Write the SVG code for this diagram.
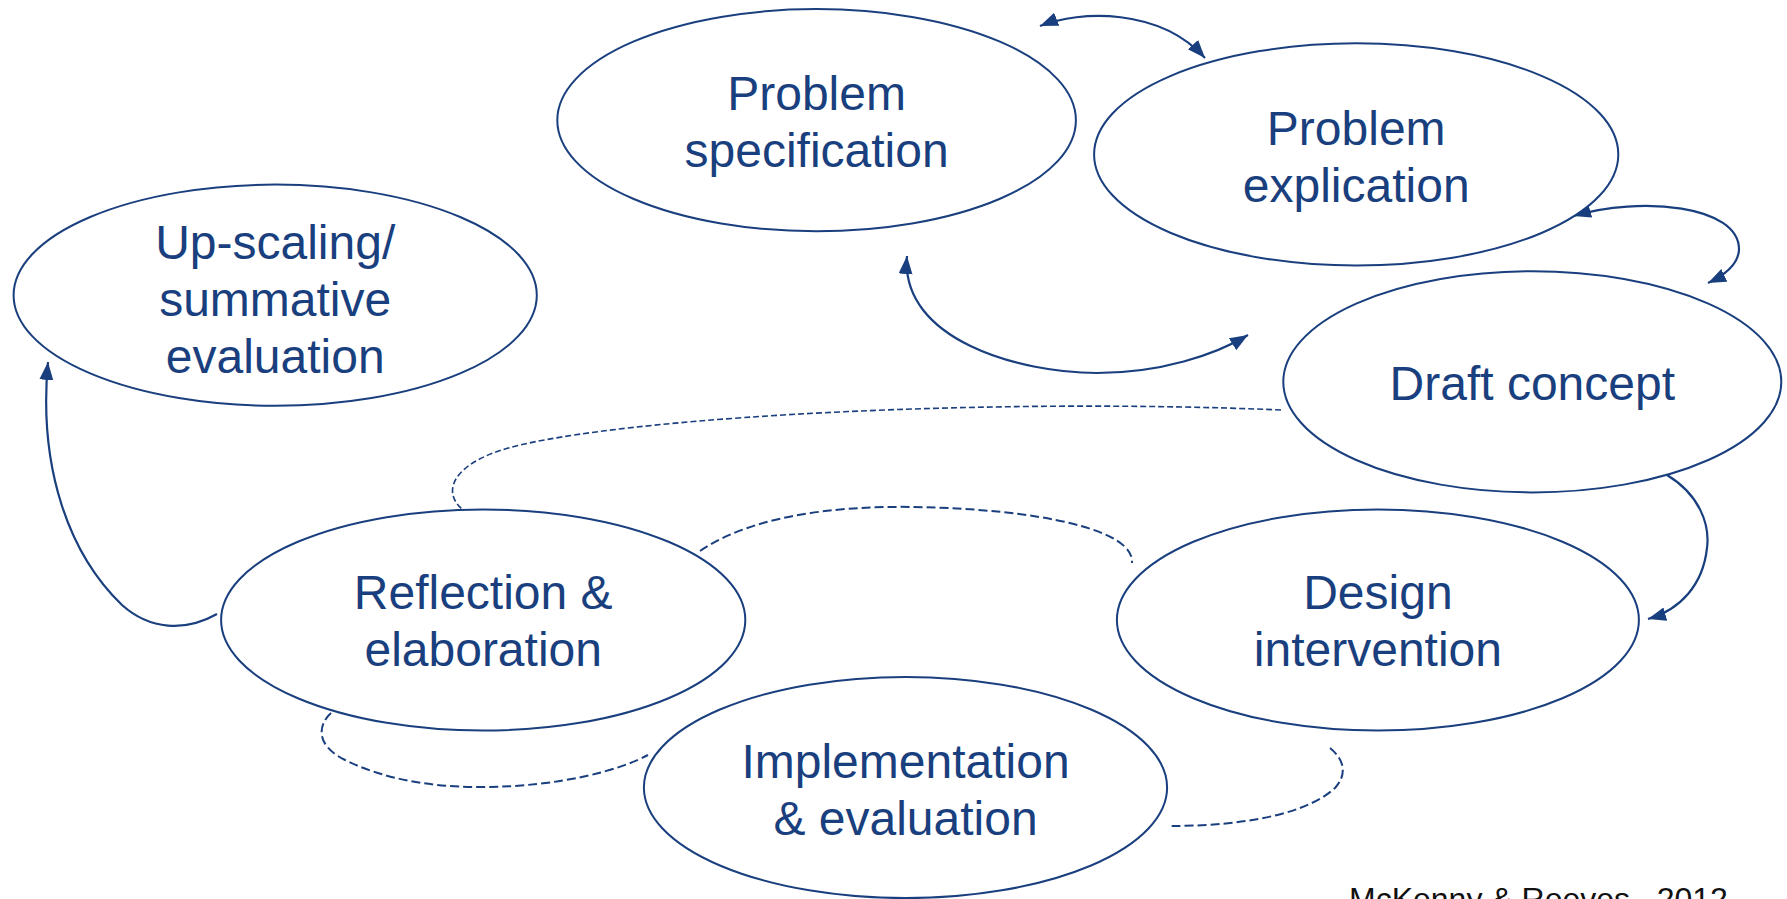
<svg xmlns="http://www.w3.org/2000/svg" width="1787" height="899" viewBox="0 0 1787 899">
<style>
.node ellipse{fill:#ffffff;stroke:#1A3F7E;stroke-width:2}
.node text{font-family:"Liberation Sans",Arial,sans-serif;font-size:48px;fill:#1A3F7E;text-anchor:middle}
.conn{fill:none;stroke:#1A3F7E;stroke-width:2.2}
.dash1{fill:none;stroke:#1A3F7E;stroke-width:1.6;stroke-dasharray:6 3}
.dash2{fill:none;stroke:#1A3F7E;stroke-width:2;stroke-dasharray:9 4}
.credit{font-family:"Liberation Sans",Arial,sans-serif;font-size:32px;fill:#111111}
</style>
<defs>
<marker id="ah" markerUnits="userSpaceOnUse" markerWidth="20" markerHeight="16" refX="18" refY="7" orient="auto-start-reverse">
<path d="M0,0 L18,7 L0,14 z" fill="#1A3F7E"/>
</marker>
</defs>
<rect width="1787" height="899" fill="#ffffff"/>
<g id="connectors">
<path class="conn" d="M1040,26 C1080,10 1160,8 1205,58" marker-start="url(#ah)" marker-end="url(#ah)"/>
<path class="conn" d="M1573,216 C1640,196 1740,205 1739,250 C1738,265 1725,275 1708,283" marker-start="url(#ah)" marker-end="url(#ah)"/>
<path class="conn" d="M907,256 C900,340 1020,373 1097,373 C1160,373 1215,355 1248,335" marker-start="url(#ah)" marker-end="url(#ah)"/>
<path class="conn" d="M1667,475 C1700,495 1710,525 1707,548 C1703,585 1680,610 1648,619" marker-end="url(#ah)"/>
<path class="conn" d="M217,614 C185,632 150,630 122,605 C70,555 38,470 48,362" marker-end="url(#ah)"/>
<path class="dash1" d="M1281,410 C1000,398 650,415 520,445 C455,460 440,490 462,509"/>
<path class="dash2" d="M700,551 C760,510 860,506 913,507 C1040,509 1135,530 1132,563"/>
<path class="dash2" d="M331,713 C318,725 315,745 345,760 C390,782 440,787 480,787 C560,787 620,770 648,755"/>
<path class="dash2" d="M1330,748 C1345,760 1347,775 1335,788 C1300,820 1220,826 1171,826"/>
</g>
<g id="problem-specification" class="node">
<ellipse cx="816.6" cy="120.2" rx="259.3" ry="111.1"/>
<text x="816.6" y="110">Problem</text>
<text x="816.6" y="167">specification</text>
</g>
<g id="problem-explication" class="node">
<ellipse cx="1356.2" cy="154.4" rx="262.1" ry="111.1"/>
<text x="1356.2" y="144.5">Problem</text>
<text x="1356.2" y="201.5">explication</text>
</g>
<g id="up-scaling" class="node">
<ellipse cx="275.2" cy="295.2" rx="261.6" ry="110.6"/>
<text x="275.2" y="259">Up-scaling/</text>
<text x="275.2" y="316">summative</text>
<text x="275.2" y="373">evaluation</text>
</g>
<g id="draft-concept" class="node">
<ellipse cx="1532.3" cy="381.8" rx="249" ry="110.6"/>
<text x="1532.3" y="400">Draft concept</text>
</g>
<g id="reflection" class="node">
<ellipse cx="483.2" cy="620" rx="262.1" ry="110.6"/>
<text x="483.2" y="609">Reflection &amp;</text>
<text x="483.2" y="666">elaboration</text>
</g>
<g id="design-intervention" class="node">
<ellipse cx="1377.9" cy="620" rx="261" ry="110.6"/>
<text x="1377.9" y="609">Design</text>
<text x="1377.9" y="666">intervention</text>
</g>
<g id="implementation" class="node">
<ellipse cx="905.5" cy="787.5" rx="261.6" ry="110.6"/>
<text x="905.5" y="778">Implementation</text>
<text x="905.5" y="835">&amp; evaluation</text>
</g>
<text class="credit" x="1349" y="910">McKenny &amp; Reeves , 2012</text>
</svg>
